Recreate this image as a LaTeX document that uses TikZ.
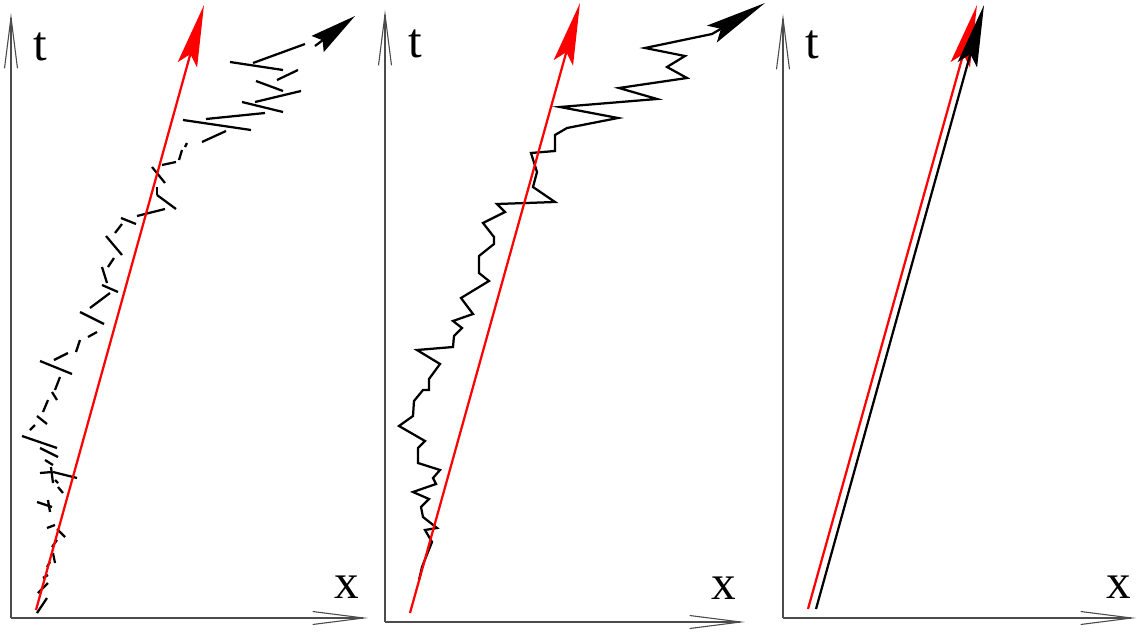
\documentclass[tikz,border=0pt]{standalone}
\usepackage{fontspec}
\setmainfont{Liberation Serif}
\usetikzlibrary{arrows.meta}
\begin{document}
\begin{tikzpicture}[x=0.02cm,y=-0.02cm,
  axis/.style={draw=black!70, line width=0.022cm, -{Straight Barb[length=1.02cm,width=0.26cm]}},
  vel/.style={draw=red, line width=0.045cm, -{Stealth[length=1.24cm,width=0.4cm,inset=0.22cm]}},
  velb/.style={draw=black, line width=0.045cm, -{Stealth[length=1.24cm,width=0.4cm,inset=0.22cm]}},
  walk/.style={draw=black, line width=0.045cm, line join=miter},
  dashseg/.style={draw=black, line width=0.045cm},
  lab/.style={font=\fontsize{28}{30}\selectfont, inner sep=0pt}
]
\useasboundingbox (0,0) rectangle (1137,632);

% ---------- panel 1 ----------
\coordinate (o1) at (11,618);
\coordinate (t1e) at (11,13);
\coordinate (x1e) at (368,618);
\draw[axis] (o1) -- (t1e);
\draw[axis] (o1) -- (x1e);
\node[lab] (t1) at (40,47) {t};
\node[lab] (x1) at (347,587) {x};

\foreach \a/\b/\c/\d in {
  37/613/47/598, 38/593/48/583, 43/578/48/575, 47/567/50/562,
  53/553/55/563, 52/547/57/540, 57/529/65/537, 47/528/55/525,
  48/500/50/512, 37/502/52/507, 58/487/63/493, 55/480/58/483,
  51/467/53/483, 53/472/77/478, 40/473/52/472, 45/460/53/465,
  40/448/58/457, 22/436/57/448, 30/430/35/425, 37/416/47/424,
  43/412/48/400, 52/392/57/400, 55/390/60/377, 40/361/72/374,
  54/360/68/353, 76/352/80/340, 88/337/97/332, 80/312/104/324,
  90/308/110/293, 102/285/118/292, 102/267/107/283, 108/267/114/258,
  106/236/122/255, 115/233/122/224, 121/218/136/224, 137/216/165/209,
  157/195/176/209, 157/187/157/195, 152/167/165/183, 162/165/176/162,
  179/160/182/150, 185/147/187/143, 202/142/226/131, 183/120/251/130,
  206/119/265/113, 242/102/283/112, 255/102/301/91, 256/81/283/91,
  277/80/298/70, 230/62/283/70, 253/63/305/44}
  \draw[dashseg] (\a,\b) -- (\c,\d);
\coordinate (w1s) at (315,46);
\coordinate (w1e) at (355,16);
\draw[walk, -{Stealth[length=0.93cm,width=0.4cm,inset=0.12cm]}] (w1s) -- (w1e);

\coordinate (r1s) at (36,610);
\coordinate (r1e) at (204,5);
\draw[vel] (r1s) -- (r1e);

% ---------- panel 2 ----------
\coordinate (o2) at (385,622);
\coordinate (t2e) at (385,10);
\coordinate (x2e) at (745,622);
\draw[axis] (o2) -- (t2e);
\draw[axis] (o2) -- (x2e);
\node[lab] (t2) at (415,44) {t};
\node[lab] (x2) at (724,588) {x};

\draw[walk, -{Stealth[length=1.23cm,width=0.39cm,inset=0.21cm]}]
  (419,580) -- (422,567) -- (432,542) -- (425,530) -- (437,528) -- (423,517)
  -- (421,507) -- (429,499) -- (413,492) -- (436,484) -- (433,478) -- (440,470)
  -- (418,463) -- (418,448) -- (425,441) -- (399,426) -- (413,416) -- (414,401)
  -- (423,390) -- (429,390) -- (429,379) -- (440,364) -- (417,350) -- (453,347)
  -- (454,336) -- (462,328) -- (453,321) -- (473,314) -- (461,298) -- (489,281)
  -- (479,273) -- (479,256) -- (494,244) -- (494,237) -- (483,223) -- (505,212)
  -- (497,204) -- (555,202) -- (533,187) -- (537,172) -- (531,153) -- (555,151)
  -- (555,135) -- (567,128) -- (618,118) -- (560,107) -- (657,99) -- (619,88)
  -- (687,78) -- (667,67) -- (685,56) -- (645,48) -- (712,34) -- (765,3);

\coordinate (r2s) at (410,613);
\coordinate (r2e) at (580,3);
\draw[vel] (r2s) -- (r2e);

% ---------- panel 3 ----------
\coordinate (o3) at (783,618);
\coordinate (t3e) at (783,14);
\coordinate (x3e) at (1136,618);
\draw[axis] (o3) -- (t3e);
\draw[axis] (o3) -- (x3e);
\node[lab] (t3) at (812,45) {t};
\node[lab] (x3) at (1119,587) {x};

\coordinate (r3s) at (808,609);
\coordinate (r3e) at (977,5);
\coordinate (b3s) at (816,609);
\coordinate (b3e) at (984,5);
\draw[vel] (r3s) -- (r3e);
\draw[velb] (b3s) -- (b3e);
\end{tikzpicture}
\end{document}
